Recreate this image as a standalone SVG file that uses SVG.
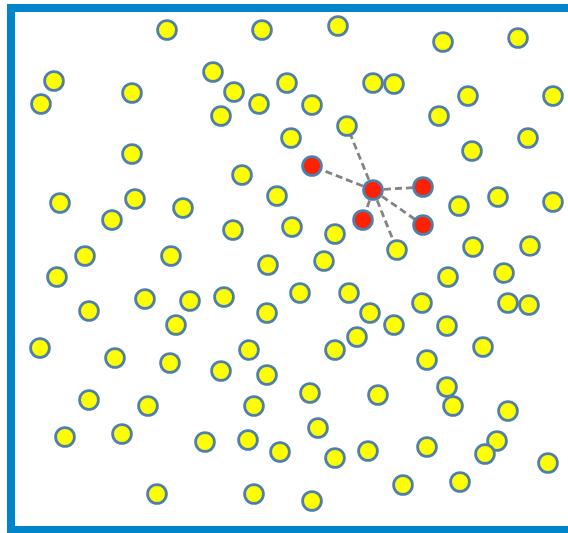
<svg xmlns="http://www.w3.org/2000/svg" width="568" height="533" viewBox="0 0 568 533">
<style>
.y{fill:#FFFF00;stroke:#4F7FAA;stroke-width:2.8}
.r{fill:#FF2000;stroke:#4F7FAA;stroke-width:2.8}
.e{stroke:#848484;stroke-width:2.8;stroke-dasharray:7 4;fill:none}
.frame{fill:#FFFFFF;stroke:#0084CA;stroke-width:8}
</style>
<rect class="frame" x="11" y="8" width="565" height="522"/>
<g id="connectors">
<line class="e" x1="373" y1="190" x2="312" y2="166"/>
<line class="e" x1="373" y1="190" x2="347" y2="126"/>
<line class="e" x1="373" y1="190" x2="423" y2="187"/>
<line class="e" x1="373" y1="190" x2="423" y2="225"/>
<line class="e" x1="373" y1="190" x2="363" y2="220"/>
<line class="e" x1="373" y1="190" x2="397" y2="250"/>
</g>
<g id="n1"><circle class="y" cx="167" cy="30" r="9.4"/></g>
<g id="n2"><circle class="y" cx="262" cy="30" r="9.4"/></g>
<g id="n3"><circle class="y" cx="338" cy="26" r="9.4"/></g>
<g id="n4"><circle class="y" cx="443" cy="42" r="9.4"/></g>
<g id="n5"><circle class="y" cx="518" cy="38" r="9.4"/></g>
<g id="n6"><circle class="y" cx="54" cy="81" r="9.4"/></g>
<g id="n7"><circle class="y" cx="41" cy="104" r="9.4"/></g>
<g id="n8"><circle class="y" cx="132" cy="93" r="9.4"/></g>
<g id="n9"><circle class="y" cx="213" cy="72" r="9.4"/></g>
<g id="n10"><circle class="y" cx="234" cy="92" r="9.4"/></g>
<g id="n11"><circle class="y" cx="259" cy="104" r="9.4"/></g>
<g id="n12"><circle class="y" cx="287" cy="83" r="9.4"/></g>
<g id="n13"><circle class="y" cx="312" cy="105" r="9.4"/></g>
<g id="n14"><circle class="y" cx="373" cy="83" r="9.4"/></g>
<g id="n15"><circle class="y" cx="394" cy="84" r="9.4"/></g>
<g id="n16"><circle class="y" cx="468" cy="96" r="9.4"/></g>
<g id="n17"><circle class="y" cx="553" cy="96" r="9.4"/></g>
<g id="n18"><circle class="y" cx="221" cy="116" r="9.4"/></g>
<g id="n19"><circle class="y" cx="439" cy="116" r="9.4"/></g>
<g id="n20"><circle class="y" cx="291" cy="138" r="9.4"/></g>
<g id="n21"><circle class="y" cx="347" cy="126" r="9.4"/></g>
<g id="n22"><circle class="y" cx="528" cy="138" r="9.4"/></g>
<g id="n23"><circle class="y" cx="132" cy="154" r="9.4"/></g>
<g id="n24"><circle class="y" cx="472" cy="151" r="9.4"/></g>
<g id="n25"><circle class="r" cx="312" cy="166" r="9.4"/></g>
<g id="n26"><circle class="y" cx="242" cy="175" r="9.4"/></g>
<g id="n27"><circle class="r" cx="373" cy="190" r="9.4"/></g>
<g id="n28"><circle class="r" cx="423" cy="187" r="9.4"/></g>
<g id="n29"><circle class="r" cx="363" cy="220" r="9.4"/></g>
<g id="n30"><circle class="r" cx="423" cy="225" r="9.4"/></g>
<g id="n31"><circle class="y" cx="60" cy="203" r="9.4"/></g>
<g id="n32"><circle class="y" cx="135" cy="199" r="9.4"/></g>
<g id="n33"><circle class="y" cx="183" cy="208" r="9.4"/></g>
<g id="n34"><circle class="y" cx="112" cy="220" r="9.4"/></g>
<g id="n35"><circle class="y" cx="277" cy="196" r="9.4"/></g>
<g id="n36"><circle class="y" cx="459" cy="206" r="9.4"/></g>
<g id="n37"><circle class="y" cx="498" cy="197" r="9.4"/></g>
<g id="n38"><circle class="y" cx="553" cy="202" r="9.4"/></g>
<g id="n39"><circle class="y" cx="233" cy="230" r="9.4"/></g>
<g id="n40"><circle class="y" cx="292" cy="227" r="9.4"/></g>
<g id="n41"><circle class="y" cx="335" cy="234" r="9.4"/></g>
<g id="n42"><circle class="y" cx="397" cy="250" r="9.4"/></g>
<g id="n43"><circle class="y" cx="85" cy="256" r="9.4"/></g>
<g id="n44"><circle class="y" cx="171" cy="256" r="9.4"/></g>
<g id="n45"><circle class="y" cx="57" cy="277" r="9.4"/></g>
<g id="n46"><circle class="y" cx="268" cy="265" r="9.4"/></g>
<g id="n47"><circle class="y" cx="324" cy="261" r="9.4"/></g>
<g id="n48"><circle class="y" cx="473" cy="247" r="9.4"/></g>
<g id="n49"><circle class="y" cx="530" cy="246" r="9.4"/></g>
<g id="n50"><circle class="y" cx="448" cy="277" r="9.4"/></g>
<g id="n51"><circle class="y" cx="504" cy="273" r="9.4"/></g>
<g id="n52"><circle class="y" cx="89" cy="311" r="9.4"/></g>
<g id="n53"><circle class="y" cx="145" cy="299" r="9.4"/></g>
<g id="n54"><circle class="y" cx="190" cy="301" r="9.4"/></g>
<g id="n55"><circle class="y" cx="224" cy="297" r="9.4"/></g>
<g id="n56"><circle class="y" cx="300" cy="293" r="9.4"/></g>
<g id="n57"><circle class="y" cx="349" cy="293" r="9.4"/></g>
<g id="n58"><circle class="y" cx="508" cy="303" r="9.4"/></g>
<g id="n59"><circle class="y" cx="529" cy="305" r="9.4"/></g>
<g id="n60"><circle class="y" cx="176" cy="325" r="9.4"/></g>
<g id="n61"><circle class="y" cx="267" cy="313" r="9.4"/></g>
<g id="n62"><circle class="y" cx="370" cy="313" r="9.4"/></g>
<g id="n63"><circle class="y" cx="422" cy="303" r="9.4"/></g>
<g id="n64"><circle class="y" cx="394" cy="325" r="9.4"/></g>
<g id="n65"><circle class="y" cx="447" cy="326" r="9.4"/></g>
<g id="n66"><circle class="y" cx="357" cy="337" r="9.4"/></g>
<g id="n67"><circle class="y" cx="40" cy="348" r="9.4"/></g>
<g id="n68"><circle class="y" cx="115" cy="358" r="9.4"/></g>
<g id="n69"><circle class="y" cx="170" cy="363" r="9.4"/></g>
<g id="n70"><circle class="y" cx="249" cy="350" r="9.4"/></g>
<g id="n71"><circle class="y" cx="335" cy="350" r="9.4"/></g>
<g id="n72"><circle class="y" cx="483" cy="347" r="9.4"/></g>
<g id="n73"><circle class="y" cx="427" cy="360" r="9.4"/></g>
<g id="n74"><circle class="y" cx="221" cy="371" r="9.4"/></g>
<g id="n75"><circle class="y" cx="267" cy="375" r="9.4"/></g>
<g id="n76"><circle class="y" cx="89" cy="400" r="9.4"/></g>
<g id="n77"><circle class="y" cx="148" cy="406" r="9.4"/></g>
<g id="n78"><circle class="y" cx="254" cy="406" r="9.4"/></g>
<g id="n79"><circle class="y" cx="310" cy="393" r="9.4"/></g>
<g id="n80"><circle class="y" cx="378" cy="395" r="9.4"/></g>
<g id="n81"><circle class="y" cx="447" cy="387" r="9.4"/></g>
<g id="n82"><circle class="y" cx="453" cy="406" r="9.4"/></g>
<g id="n83"><circle class="y" cx="508" cy="411" r="9.4"/></g>
<g id="n84"><circle class="y" cx="318" cy="428" r="9.4"/></g>
<g id="n85"><circle class="y" cx="65" cy="437" r="9.4"/></g>
<g id="n86"><circle class="y" cx="122" cy="434" r="9.4"/></g>
<g id="n87"><circle class="y" cx="205" cy="442" r="9.4"/></g>
<g id="n88"><circle class="y" cx="248" cy="440" r="9.4"/></g>
<g id="n89"><circle class="y" cx="280" cy="452" r="9.4"/></g>
<g id="n90"><circle class="y" cx="335" cy="458" r="9.4"/></g>
<g id="n91"><circle class="y" cx="368" cy="451" r="9.4"/></g>
<g id="n92"><circle class="y" cx="427" cy="447" r="9.4"/></g>
<g id="n93"><circle class="y" cx="497" cy="441" r="9.4"/></g>
<g id="n94"><circle class="y" cx="485" cy="454" r="9.4"/></g>
<g id="n95"><circle class="y" cx="548" cy="463" r="9.4"/></g>
<g id="n96"><circle class="y" cx="403" cy="485" r="9.4"/></g>
<g id="n97"><circle class="y" cx="460" cy="482" r="9.4"/></g>
<g id="n98"><circle class="y" cx="157" cy="494" r="9.4"/></g>
<g id="n99"><circle class="y" cx="254" cy="494" r="9.4"/></g>
<g id="n100"><circle class="y" cx="312" cy="501" r="9.4"/></g>
</svg>
